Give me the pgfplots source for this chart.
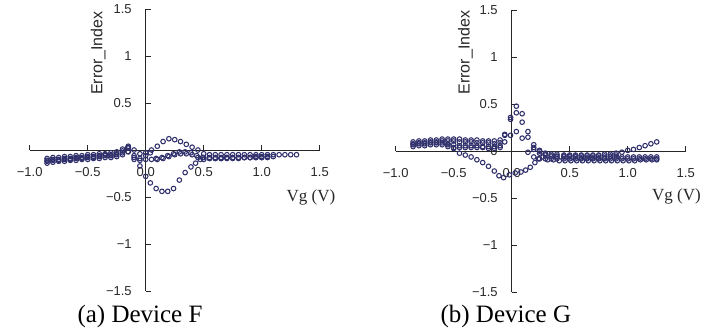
\documentclass[border=0pt]{standalone}
\usepackage{fontspec}
\setmainfont{Liberation Serif}
\setsansfont{Liberation Sans}
\usepackage{pgfplots}
\pgfplotsset{compat=1.18}

\definecolor{mk}{RGB}{48,48,108}
\definecolor{tx}{RGB}{40,40,40}

\pgfplotsset{
 pts/.style={only marks, mark=o, mark size=2.3pt, draw=mk, mark options={draw=mk, fill=none, line width=1.05pt}},
 panel/.style={
  scale only axis, width=290pt, height=282pt,
  xmin=-1, xmax=1.5, ymin=-1.5, ymax=1.5,
  axis lines=middle,
  axis line style={-, draw=black!85, line width=0.8pt},
  xtick={-1,-0.5,0,0.5,1,1.5},
  xticklabels={−1.0,−0.5,0.0,0.5,1.0,1.5},
  ytick={-1.5,-1,-0.5,0,0.5,1,1.5},
  yticklabels={−1.5,−1,−0.5,0,0.5,1,1.5},
  hide obscured x ticks=false, hide obscured y ticks=false,
  tick align=center, major tick length=5pt,
  xtick style={yshift=2.5pt, draw=black!85, line width=0.8pt},
  ytick style={xshift=2.5pt, draw=black!85, line width=0.8pt},
  tick label style={font=\sffamily\fontsize{13}{14}\selectfont, text=tx},
  xticklabel style={yshift=-11.5pt},
  yticklabel style={xshift=-8pt},
  clip=false,
 }
}

\begin{document}
\begin{tikzpicture}
\path[use as bounding box] (0pt,0pt) rectangle (702pt,333pt);

% ---------------- Panel (a) ----------------
\begin{axis}[panel, at={(29.7pt,42pt)}, anchor=south west]
\addplot[pts] table {
x y
-0.85 -0.09
-0.80 -0.08
-0.75 -0.08
-0.70 -0.07
-0.65 -0.07
-0.60 -0.06
-0.55 -0.06
-0.50 -0.05
-0.45 -0.05
-0.40 -0.04
-0.35 -0.04
-0.30 -0.03
-0.25 -0.02
-0.20 0.01
-0.15 0.04
-0.10 0.00
-0.05 -0.04
0.00 -0.03
0.05 0.00
0.10 0.04
0.15 0.09
0.20 0.12
0.25 0.11
0.30 0.09
0.35 0.06
0.40 0.03
0.45 0.00
0.50 -0.04
0.55 -0.05
0.60 -0.05
0.65 -0.05
0.70 -0.05
0.75 -0.05
0.80 -0.05
0.85 -0.05
0.90 -0.05
0.95 -0.05
1.00 -0.05
1.05 -0.05
1.10 -0.05
1.15 -0.05
1.20 -0.05
1.25 -0.05
1.30 -0.05
};
\addplot[pts] table {
x y
-0.85 -0.12
-0.80 -0.11
-0.75 -0.11
-0.70 -0.10
-0.65 -0.10
-0.60 -0.09
-0.55 -0.09
-0.50 -0.08
-0.45 -0.08
-0.40 -0.07
-0.35 -0.06
-0.30 -0.06
-0.25 -0.05
-0.20 -0.03
-0.15 0.02
-0.10 -0.06
-0.05 -0.17
0.00 -0.28
0.04 -0.35
0.09 -0.41
0.14 -0.44
0.19 -0.44
0.24 -0.41
0.29 -0.32
0.34 -0.24
0.39 -0.18
0.43 -0.14
0.47 -0.10
0.50 -0.08
0.55 -0.08
0.60 -0.08
0.65 -0.08
0.70 -0.08
0.75 -0.08
0.80 -0.08
0.85 -0.08
0.90 -0.08
0.95 -0.07
1.00 -0.07
1.05 -0.07
};
\addplot[pts] table {
x y
-0.85 -0.14
-0.80 -0.13
-0.75 -0.12
-0.70 -0.12
-0.65 -0.11
-0.60 -0.11
-0.55 -0.10
-0.50 -0.10
-0.45 -0.09
-0.40 -0.09
-0.35 -0.08
-0.30 -0.08
-0.25 -0.07
-0.20 -0.05
-0.15 -0.02
-0.10 -0.08
-0.05 -0.09
0.00 -0.06
0.04 -0.03
0.09 -0.09
0.14 -0.08
0.19 -0.06
0.24 -0.04
0.29 -0.02
0.34 -0.02
0.39 -0.03
0.44 -0.06
0.49 -0.08
0.55 -0.09
0.60 -0.09
0.65 -0.09
0.70 -0.09
0.75 -0.09
0.80 -0.09
0.85 -0.08
0.90 -0.08
0.95 -0.08
1.00 -0.08
1.05 -0.08
1.10 -0.07
};
\addplot[pts] table {
x y
-0.85 -0.11
-0.80 -0.10
-0.75 -0.10
-0.70 -0.09
-0.65 -0.09
-0.60 -0.08
-0.55 -0.08
-0.50 -0.07
-0.45 -0.07
-0.40 -0.06
-0.35 -0.05
-0.30 -0.05
-0.25 -0.04
-0.20 -0.01
-0.15 0.03
-0.10 -0.10
-0.05 -0.11
0.00 -0.10
0.05 -0.10
0.10 -0.10
0.15 -0.09
0.20 -0.07
0.25 -0.05
0.30 -0.04
0.35 -0.04
0.40 -0.05
0.45 -0.08
0.50 -0.10
0.55 -0.09
0.60 -0.09
0.65 -0.09
0.70 -0.08
0.75 -0.08
0.80 -0.08
0.85 -0.08
0.90 -0.08
0.95 -0.08
1.00 -0.08
};
\node[rotate=90, font=\sffamily\fontsize{16}{17}\selectfont, text=tx] at (axis cs:-0.41,1.03) {Error\_Index};
\node[font=\fontsize{17}{18}\selectfont, text=tx] at (axis cs:1.425,-0.5) {Vg (V)};
\end{axis}

% ---------------- Panel (b) ----------------
\begin{axis}[panel, at={(395.7pt,40.7pt)}, anchor=south west]
\addplot[pts] table {
x y
-0.85 0.10
-0.80 0.11
-0.75 0.11
-0.70 0.12
-0.65 0.12
-0.60 0.13
-0.55 0.13
-0.50 0.13
-0.45 0.13
-0.40 0.12
-0.35 0.12
-0.30 0.12
-0.25 0.11
-0.20 0.11
-0.15 0.11
-0.10 0.12
-0.06 0.18
-0.01 0.36
0.04 0.48
0.09 0.40
0.14 0.21
0.19 0.07
0.24 0.01
0.29 -0.02
0.34 -0.03
0.39 -0.03
0.45 -0.04
0.50 -0.04
0.55 -0.04
0.60 -0.04
0.65 -0.04
0.70 -0.04
0.75 -0.04
0.80 -0.03
0.85 -0.03
0.90 -0.02
0.95 -0.01
1.00 0.01
1.05 0.02
1.10 0.04
1.15 0.06
1.20 0.08
1.25 0.10
};
\addplot[pts] table {
x y
-0.85 0.08
-0.80 0.09
-0.75 0.09
-0.70 0.10
-0.65 0.10
-0.60 0.11
-0.55 0.11
-0.50 0.11
-0.45 0.10
-0.40 0.10
-0.35 0.10
-0.30 0.09
-0.25 0.09
-0.20 0.09
-0.15 0.08
-0.10 0.09
-0.06 0.17
-0.01 0.34
0.04 0.41
0.09 0.31
0.14 0.15
0.19 0.04
0.24 -0.02
0.29 -0.04
0.34 -0.05
0.39 -0.06
0.45 -0.06
0.50 -0.06
0.55 -0.06
0.60 -0.07
0.65 -0.07
0.70 -0.07
0.75 -0.07
0.80 -0.07
0.85 -0.06
0.90 -0.06
0.95 -0.06
1.00 -0.06
1.05 -0.06
1.10 -0.06
1.15 -0.06
1.20 -0.06
1.25 -0.06
};
\addplot[pts] table {
x y
-0.85 0.05
-0.80 0.06
-0.75 0.06
-0.70 0.07
-0.65 0.07
-0.60 0.07
-0.55 0.07
-0.50 0.07
-0.45 0.06
-0.40 0.06
-0.35 0.06
-0.30 0.06
-0.25 0.05
-0.20 0.05
-0.15 0.05
-0.10 0.06
-0.06 0.10
-0.01 0.17
0.04 0.21
0.09 0.14
0.14 -0.01
0.19 -0.06
0.24 -0.08
0.29 -0.08
0.34 -0.08
0.39 -0.08
0.45 -0.08
0.50 -0.08
0.55 -0.08
0.60 -0.08
0.65 -0.08
0.70 -0.08
0.75 -0.08
0.80 -0.08
0.85 -0.08
0.90 -0.08
0.95 -0.08
1.00 -0.08
1.05 -0.08
1.10 -0.08
1.15 -0.08
1.20 -0.08
1.25 -0.08
};
\addplot[pts] table {
x y
-0.85 0.07
-0.80 0.08
-0.75 0.08
-0.70 0.09
-0.65 0.09
-0.60 0.09
-0.55 0.08
-0.50 0.03
-0.45 -0.02
-0.40 -0.04
-0.35 -0.06
-0.30 -0.09
-0.25 -0.12
-0.20 -0.16
-0.15 -0.21
-0.11 -0.26
-0.07 -0.28
-0.02 -0.25
0.03 -0.23
0.08 -0.22
0.12 -0.20
0.16 -0.17
0.20 -0.12
0.23 -0.08
0.27 -0.06
0.31 -0.09
0.36 -0.09
0.41 -0.10
0.46 -0.10
0.51 -0.10
0.56 -0.10
0.61 -0.10
0.66 -0.10
0.71 -0.10
0.76 -0.10
0.81 -0.10
0.86 -0.10
0.91 -0.10
0.96 -0.10
1.01 -0.10
1.06 -0.10
1.11 -0.09
1.16 -0.09
1.21 -0.09
1.25 -0.09
};
\addplot[pts] table {
x y
-0.55 0.05
-0.50 0.04
-0.45 0.04
-0.40 0.04
-0.35 0.04
-0.30 0.04
-0.25 0.04
-0.20 0.03
-0.15 0.03
-0.10 0.04
0.19 0.02
0.24 0.00
0.29 -0.03
0.34 -0.05
0.39 -0.05
0.45 -0.05
0.50 -0.05
0.55 -0.05
0.60 -0.05
0.65 -0.05
0.70 -0.05
0.75 -0.05
0.80 -0.05
0.85 -0.05
0.90 -0.04
};
\node[rotate=90, font=\sffamily\fontsize{16}{17}\selectfont, text=tx] at (axis cs:-0.40,1.05) {Error\_Index};
\node[font=\fontsize{17}{18}\selectfont, text=tx] at (axis cs:1.42,-0.48) {Vg (V)};
\end{axis}

\node[font=\fontsize{25}{28}\selectfont] at (140pt,16.5pt) {(a) Device F};
\node[font=\fontsize{25}{28}\selectfont] at (505.8pt,16.5pt) {(b) Device G};
\end{tikzpicture}
\end{document}
